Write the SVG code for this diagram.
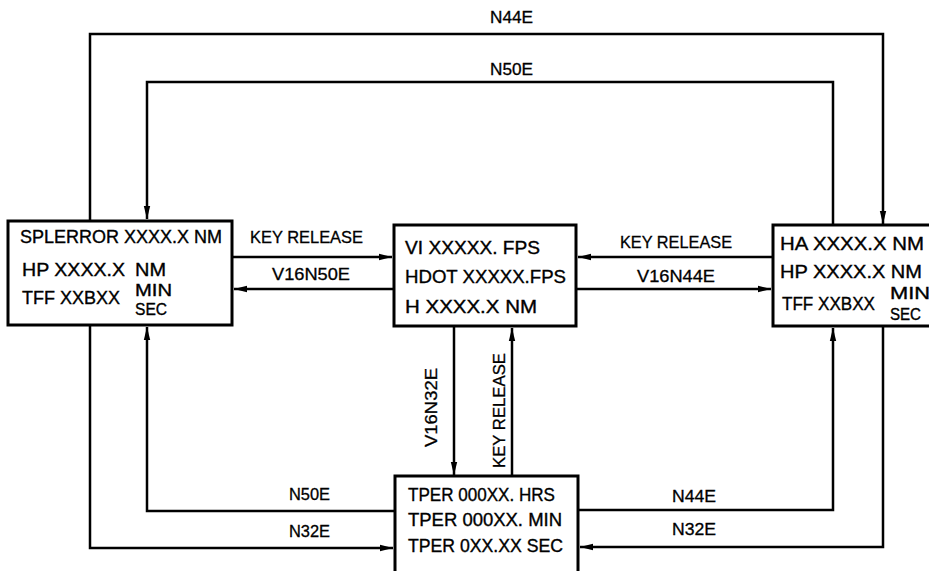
<svg xmlns="http://www.w3.org/2000/svg" width="929" height="571" viewBox="0 0 929 571">
<defs>
<marker id="arr" markerUnits="userSpaceOnUse" markerWidth="14" markerHeight="8" refX="13" refY="4" orient="auto">
<path d="M0,0.8 L13,4 L0,7.2 z" fill="#000"/>
</marker>
<style>
.box{fill:#fff;stroke:#000;stroke-width:3}
.t{font-family:"Liberation Sans",Arial,sans-serif;font-size:18px;fill:#000;stroke:#000;stroke-width:0.35}
.s{font-family:"Liberation Sans",Arial,sans-serif;font-size:16px;fill:#000;stroke:#000;stroke-width:0.35}
.l{font-family:"Liberation Sans",Arial,sans-serif;font-size:17px;fill:#000;stroke:#000;stroke-width:0.3}
.n{font-family:"Liberation Sans",Arial,sans-serif;font-size:16px;fill:#000;stroke:#000;stroke-width:0.3}
.c{fill:none;stroke:#000;stroke-width:2.5;marker-end:url(#arr)}
</style>
</defs>
<rect width="929" height="571" fill="#fff"/>
<g id="connectors">
<path class="c" d="M90,220 V34 H883 V224"/>
<path class="c" d="M833,225 V82 H147 V219"/>
<path class="c" d="M395,511 H147 V327"/>
<path class="c" d="M90,325 V548 H393"/>
<path class="c" d="M578,510 H833 V328"/>
<path class="c" d="M883,326 V547 H580"/>
<path class="c" d="M454,326 V475"/>
<path class="c" d="M512,476 V328"/>
<path class="c" d="M232,257 H392"/>
<path class="c" d="M394,289 H234"/>
<path class="c" d="M773,257 H578"/>
<path class="c" d="M576,289 H771"/>
<text class="n" x="490" y="23" textLength="43" lengthAdjust="spacingAndGlyphs">N44E</text>
<text class="n" x="490" y="75" textLength="43" lengthAdjust="spacingAndGlyphs">N50E</text>
<text class="n" x="289" y="500" textLength="41" lengthAdjust="spacingAndGlyphs">N50E</text>
<text class="n" x="289" y="537" textLength="41" lengthAdjust="spacingAndGlyphs">N32E</text>
<text class="n" x="672" y="502" textLength="44" lengthAdjust="spacingAndGlyphs">N44E</text>
<text class="n" x="672" y="535" textLength="44" lengthAdjust="spacingAndGlyphs">N32E</text>
<text class="l" x="250" y="243" textLength="113" lengthAdjust="spacingAndGlyphs">KEY RELEASE</text>
<text class="l" x="272" y="280" textLength="78" lengthAdjust="spacingAndGlyphs">V16N50E</text>
<text class="l" x="620" y="248" textLength="112" lengthAdjust="spacingAndGlyphs">KEY RELEASE</text>
<text class="l" x="637" y="282" textLength="78" lengthAdjust="spacingAndGlyphs">V16N44E</text>
<text class="l" transform="translate(437,447) rotate(-90)" x="0" y="0" textLength="79" lengthAdjust="spacingAndGlyphs">V16N32E</text>
<text class="l" transform="translate(505,468) rotate(-90)" x="0" y="0" textLength="115" lengthAdjust="spacingAndGlyphs">KEY RELEASE</text>
</g>
<g id="node-left">
<rect class="box" x="8" y="221" width="224" height="104"/>
<text class="t" x="20" y="243" textLength="202" lengthAdjust="spacingAndGlyphs">SPLERROR XXXX.X NM</text>
<text class="t" x="22" y="276" textLength="103" lengthAdjust="spacingAndGlyphs">HP XXXX.X</text>
<text class="t" x="135" y="276" textLength="31" lengthAdjust="spacingAndGlyphs">NM</text>
<text class="t" x="22" y="304" textLength="98" lengthAdjust="spacingAndGlyphs">TFF XXBXX</text>
<text class="s" x="135" y="296" textLength="37" lengthAdjust="spacingAndGlyphs">MIN</text>
<text class="s" x="135" y="315" textLength="32" lengthAdjust="spacingAndGlyphs">SEC</text>
</g>
<g id="node-center">
<rect class="box" x="394" y="225" width="182" height="101"/>
<text class="t" x="405" y="254" textLength="135" lengthAdjust="spacingAndGlyphs">VI XXXXX.  FPS</text>
<text class="t" x="405" y="283" textLength="161" lengthAdjust="spacingAndGlyphs">HDOT XXXXX.FPS</text>
<text class="t" x="405" y="313" textLength="132" lengthAdjust="spacingAndGlyphs">H XXXX.X NM</text>
</g>
<g id="node-right">
<rect class="box" x="773" y="225" width="170" height="101"/>
<text class="t" x="780" y="250" textLength="144" lengthAdjust="spacingAndGlyphs">HA XXXX.X NM</text>
<text class="t" x="780" y="278" textLength="142" lengthAdjust="spacingAndGlyphs">HP XXXX.X NM</text>
<text class="t" x="782" y="310" textLength="93" lengthAdjust="spacingAndGlyphs">TFF XXBXX</text>
<text class="s" x="890" y="299" textLength="40" lengthAdjust="spacingAndGlyphs">MIN</text>
<text class="s" x="890" y="320" textLength="31" lengthAdjust="spacingAndGlyphs">SEC</text>
</g>
<g id="node-bottom">
<rect class="box" x="395" y="476" width="183" height="110"/>
<text class="t" x="408" y="501" textLength="147" lengthAdjust="spacingAndGlyphs">TPER 000XX.  HRS</text>
<text class="t" x="408" y="526" textLength="154" lengthAdjust="spacingAndGlyphs">TPER 000XX.  MIN</text>
<text class="t" x="408" y="552" textLength="155" lengthAdjust="spacingAndGlyphs">TPER 0XX.XX SEC</text>
</g>
</svg>
